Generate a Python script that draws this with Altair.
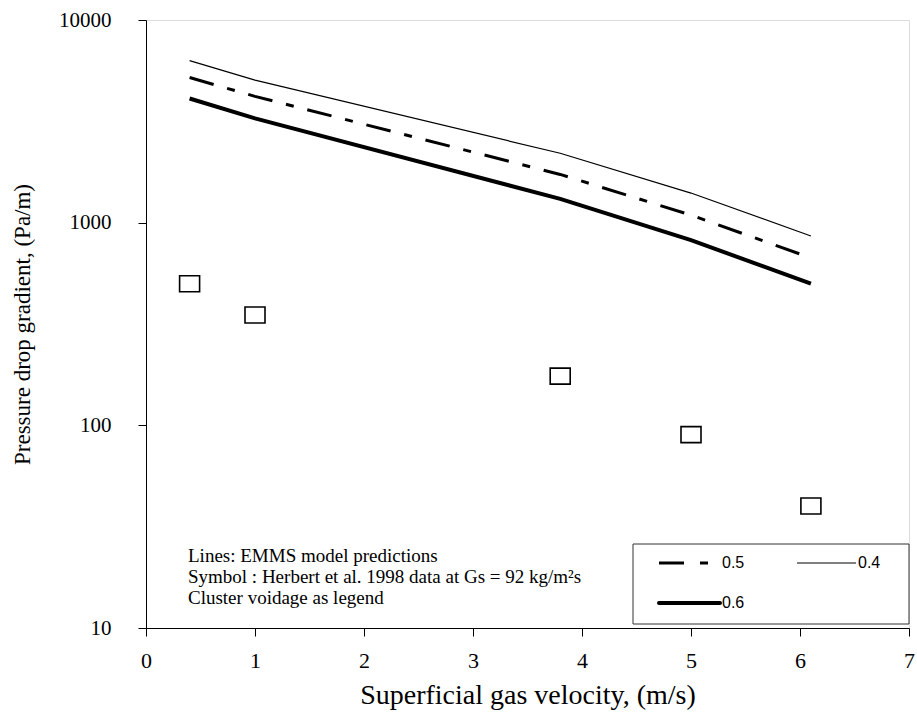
import altair as alt
import pandas as pd

# ---- data ----
x_vel = [0.4, 1.0, 3.8, 5.0, 6.1]
line_04 = [6300, 5050, 2200, 1400, 860]
line_05 = [5200, 4200, 1730, 1090, 670]
line_06 = [4100, 3270, 1310, 820, 500]
exp_dp = [500, 350, 175, 90, 40]
series_labels = ["0.5", "0.4", "0.6"]
x_ticks = [0, 1, 2, 3, 4, 5, 6, 7]
y_ticks = [10, 100, 1000, 10000]
notes = [
    "Lines: EMMS model predictions",
    "Symbol : Herbert et al. 1998 data at Gs = 92 kg/m\u00b2s",
    "Cluster voidage as legend",
]

SERIF = "Liberation Serif"
SANS = "Liberation Sans"

xscale = alt.Scale(domain=[0, 7], nice=False, zero=False)
yscale = alt.Scale(type="log", domain=[10, 10000], nice=False)

xaxis = alt.Axis(values=x_ticks, format="d", title="Superficial gas velocity, (m/s)", grid=False,
                 labelFont=SERIF, labelFontSize=22, labelColor="black", labelPadding=14,
                 titleFont=SERIF, titleFontSize=28, titleFontWeight="normal", titleColor="black",
                 titlePadding=10, tickSize=8, tickColor="black", domainColor="black",
                 labelFlush=False)
yaxis = alt.Axis(values=y_ticks, format="d", title="Pressure drop gradient, (Pa/m)", grid=False,
                 labelFont=SERIF, labelFontSize=21, labelColor="black", labelPadding=27,
                 titleFont=SERIF, titleFontSize=23, titleFontWeight="normal", titleColor="black",
                 titlePadding=24, tickSize=8, tickColor="black", domainColor="black",
                 labelFlush=False)

series = [
    ("0.4", line_04, dict(strokeWidth=1.2)),
    ("0.5", line_05, dict(strokeWidth=3, strokeDash=[25, 14, 8, 14])),
    ("0.6", line_06, dict(strokeWidth=4)),
]

layers = []
for lab, vals, style in series:
    df = pd.DataFrame({"u": x_vel, "dp": vals, "voidage": lab})
    layers.append(
        alt.Chart(df).mark_line(color="black", strokeCap="butt", **style).encode(
            x=alt.X("u:Q", scale=xscale, axis=xaxis),
            y=alt.Y("dp:Q", scale=yscale, axis=yaxis))
    )

pts_df = pd.DataFrame({"u": x_vel, "dp": exp_dp})
pts = alt.Chart(pts_df).mark_point(
    shape="M-1,-0.8L1,-0.8L1,0.8L-1,0.8Z", size=400, filled=False,
    color="black", strokeWidth=1.6, opacity=1,
).encode(x=alt.X("u:Q", scale=xscale, axis=xaxis), y=alt.Y("dp:Q", scale=yscale, axis=yaxis))
layers.append(pts)

one = pd.DataFrame({"a": [0]})

note = alt.Chart(one).mark_text(
    text=notes, align="left", baseline="top", font=SERIF, fontSize=19,
    lineHeight=21, color="black",
).encode(x=alt.value(42), y=alt.value(527))
layers.append(note)

# ---- legend box (drawn by hand to match the reference) ----
leg_box = alt.Chart(one).mark_rect(fill="white", stroke="#333", strokeWidth=1).encode(
    x=alt.value(487), x2=alt.value(763), y=alt.value(524), y2=alt.value(604))
leg_05 = alt.Chart(one).mark_rule(color="black", strokeWidth=3, strokeDash=[25, 16, 8, 100]).encode(
    x=alt.value(513), x2=alt.value(562), y=alt.value(543))
leg_04 = alt.Chart(one).mark_rule(color="black", strokeWidth=1.2).encode(
    x=alt.value(651), x2=alt.value(710), y=alt.value(543))
leg_06 = alt.Chart(one).mark_rule(color="black", strokeWidth=4, strokeCap="round").encode(
    x=alt.value(513), x2=alt.value(574), y=alt.value(583))
leg_t05 = alt.Chart(one).mark_text(text=series_labels[0], align="left", baseline="middle",
                                   font=SANS, fontSize=16, color="black").encode(
    x=alt.value(576), y=alt.value(543))
leg_t04 = alt.Chart(one).mark_text(text=series_labels[1], align="left", baseline="middle",
                                   font=SANS, fontSize=16, color="black").encode(
    x=alt.value(712), y=alt.value(543))
leg_t06 = alt.Chart(one).mark_text(text=series_labels[2], align="left", baseline="middle",
                                   font=SANS, fontSize=16, color="black").encode(
    x=alt.value(576), y=alt.value(583))
layers += [leg_box, leg_05, leg_04, leg_06, leg_t05, leg_t04, leg_t06]

chart = alt.layer(*layers).properties(
    width=763, height=608,
    autosize=alt.AutoSizeParams(type="none"),
    padding={"left": 146, "top": 20, "right": 8, "bottom": 94},
).configure_view(stroke="#222", strokeWidth=1).configure(background="white")

chart.save("out.html", embed_options={"renderer": "svg", "actions": False})
